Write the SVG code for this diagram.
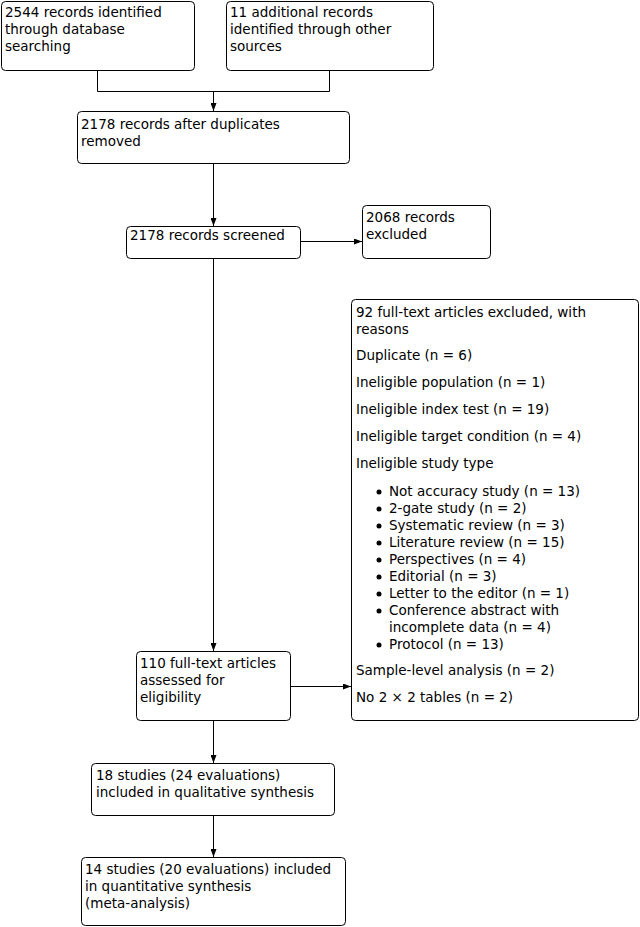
<svg xmlns="http://www.w3.org/2000/svg" width="640" height="927" viewBox="0 0 640 927">
<defs>
<style>
.box{fill:#fff;stroke:#000;stroke-width:1}
.t{font-family:"DejaVu Sans",Verdana,sans-serif;font-size:13.5px;fill:#000}
.c{fill:none;stroke:#000;stroke-width:1}
</style>
<marker id="ah" markerWidth="8" markerHeight="6" refX="8" refY="3" orient="auto" markerUnits="userSpaceOnUse">
<path d="M0,0 L8,3 L0,6 Z" fill="#000"/>
</marker>
</defs>
<rect width="640" height="927" fill="#fff"/>
<g id="connectors">
<path class="c" d="M97.5,70 V91.5 H329.5 V70"/>
<path class="c" d="M213.5,91.5 V111" marker-end="url(#ah)"/>
<path class="c" d="M213.5,163 V226" marker-end="url(#ah)"/>
<path class="c" d="M300,241.5 H362" marker-end="url(#ah)"/>
<path class="c" d="M213.5,258 V651" marker-end="url(#ah)"/>
<path class="c" d="M290,686.5 H351" marker-end="url(#ah)"/>
<path class="c" d="M213.5,720 V763" marker-end="url(#ah)"/>
<path class="c" d="M213.5,815 V857" marker-end="url(#ah)"/>
</g>
<g id="n1">
<rect class="box" x="1.5" y="1.5" width="193" height="69" rx="4"/>
<text class="t" x="5" y="17">2544 records identified</text>
<text class="t" x="5" y="34">through database</text>
<text class="t" x="5" y="51">searching</text>
</g>
<g id="n2">
<rect class="box" x="226.5" y="1.5" width="207" height="69" rx="4"/>
<text class="t" x="230" y="17">11 additional records</text>
<text class="t" x="230" y="34">identified through other</text>
<text class="t" x="230" y="51">sources</text>
</g>
<g id="n3">
<rect class="box" x="77.5" y="111.5" width="272" height="52" rx="4"/>
<text class="t" x="81" y="129">2178 records after duplicates</text>
<text class="t" x="81" y="146">removed</text>
</g>
<g id="n4">
<rect class="box" x="126.5" y="226.5" width="174" height="32" rx="4"/>
<text class="t" x="130" y="240">2178 records screened</text>
</g>
<g id="n5">
<rect class="box" x="362.5" y="205.5" width="128" height="53" rx="4"/>
<text class="t" x="366" y="222">2068 records</text>
<text class="t" x="366" y="239">excluded</text>
</g>
<g id="n6">
<rect class="box" x="351.5" y="299.5" width="287" height="421" rx="4"/>
<text class="t" x="356" y="317">92 full-text articles excluded, with</text>
<text class="t" x="356" y="334">reasons</text>
<text class="t" x="356" y="360">Duplicate (n = 6)</text>
<text class="t" x="356" y="387">Ineligible population (n = 1)</text>
<text class="t" x="356" y="414">Ineligible index test (n = 19)</text>
<text class="t" x="356" y="441">Ineligible target condition (n = 4)</text>
<text class="t" x="356" y="468">Ineligible study type</text>
<g fill="#000">
<circle cx="379" cy="492" r="2.5"/>
<circle cx="379" cy="509" r="2.5"/>
<circle cx="379" cy="526" r="2.5"/>
<circle cx="379" cy="543" r="2.5"/>
<circle cx="379" cy="560" r="2.5"/>
<circle cx="379" cy="577" r="2.5"/>
<circle cx="379" cy="594" r="2.5"/>
<circle cx="379" cy="611" r="2.5"/>
<circle cx="379" cy="645" r="2.5"/>
</g>
<text class="t" x="389" y="496">Not accuracy study (n = 13)</text>
<text class="t" x="389" y="513">2-gate study (n = 2)</text>
<text class="t" x="389" y="530">Systematic review (n = 3)</text>
<text class="t" x="389" y="547">Literature review (n = 15)</text>
<text class="t" x="389" y="564">Perspectives (n = 4)</text>
<text class="t" x="389" y="581">Editorial (n = 3)</text>
<text class="t" x="389" y="598">Letter to the editor (n = 1)</text>
<text class="t" x="389" y="615">Conference abstract with</text>
<text class="t" x="389" y="632">incomplete data (n = 4)</text>
<text class="t" x="389" y="649">Protocol (n = 13)</text>
<text class="t" x="356" y="675">Sample-level analysis (n = 2)</text>
<text class="t" x="356" y="702">No 2 × 2 tables (n = 2)</text>
</g>
<g id="n7">
<rect class="box" x="136.5" y="651.5" width="154" height="69" rx="4"/>
<text class="t" x="140" y="668">110 full-text articles</text>
<text class="t" x="140" y="685">assessed for</text>
<text class="t" x="140" y="702">eligibility</text>
</g>
<g id="n8">
<rect class="box" x="91.5" y="763.5" width="243" height="52" rx="4"/>
<text class="t" x="96" y="780">18 studies (24 evaluations)</text>
<text class="t" x="96" y="797">included in qualitative synthesis</text>
</g>
<g id="n9">
<rect class="box" x="81.5" y="857.5" width="264" height="68" rx="4"/>
<text class="t" x="85" y="874">14 studies (20 evaluations) included</text>
<text class="t" x="85" y="891">in quantitative synthesis</text>
<text class="t" x="85" y="908">(meta-analysis)</text>
</g>
</svg>
